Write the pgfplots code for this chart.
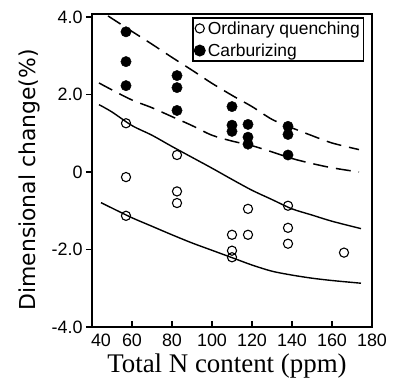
\documentclass[border=0pt]{standalone}
\usepackage{pgfplots}
\pgfplotsset{compat=1.18}
\usepackage{fontspec}
\setmainfont{Liberation Serif}
\newfontfamily\lsans{Liberation Sans}
\newfontfamily\dsans{DejaVu Sans}
\begin{document}
\begin{tikzpicture}
\path[use as bounding box] (-92bp,-51bp) rectangle (303bp,327bp);
\begin{axis}[
  at={(0,0)}, anchor=south west,
  scale only axis, width=280bp, height=313bp,
  xmin=40, xmax=180, ymin=-4, ymax=4.08,
  xtick={40,60,...,180},
  xticklabels={\hspace{18bp}40,60,80,100,120,140,160,180},
  ytick={-4,-2,0,2,4},
  yticklabels={-4.0,-2.0,0,2.0,4.0},
  tick pos=left,
  xtick align=inside, ytick align=outside,
  major tick length=6bp,
  tick style={line width=1.2bp, black},
  axis line style={line width=1.8bp},
  ticklabel style={font=\lsans\fontsize{18}{18}\selectfont},
  xticklabel style={yshift=-3bp},
  /pgf/number format/assume math mode=true,
  xlabel={Total N content (ppm)},
  xlabel style={font=\fontsize{27}{27}\selectfont, at={(axis description cs:0.482,-0.144)}, anchor=base},
  ylabel={Dimensional change(\%)},
  ylabel style={font=\dsans\fontsize{22}{22}\selectfont, at={(axis description cs:-0.225,0.47)}, anchor=center, rotate=0},
  legend style={at={(0.972,0.99)}, anchor=north east, draw=black, line width=1.5bp,
    font=\lsans\fontsize{17.5}{17.5}\selectfont, inner sep=1.5bp, row sep=4bp,
    /tikz/every even column/.append style={column sep=0bp}},
  legend cell align=left,
  legend image code/.code={\path[draw=none,fill=none] (0bp,0bp) rectangle (11bp,0bp); \draw[#1] plot coordinates {(5bp,0bp)};},
]
\addplot[only marks, mark=o, mark size=4.6bp, mark options={line width=1.1bp, black}] coordinates {
(57,1.26) (57,-0.13) (57,-1.13) (82.5,0.44) (82.5,-0.5) (82.5,-0.8)
(110,-1.62) (110,-2.03) (110,-2.2) (118,-0.95) (118,-1.62)
(138,-0.87) (138,-1.44) (138,-1.85) (166,-2.08)};
\addlegendentry{Ordinary quenching}
\addplot[only marks, mark=*, mark size=5.2bp, mark options={black, fill=black}] coordinates {
(57,3.62) (57,2.85) (57,2.23) (82.5,2.49) (82.5,2.18) (82.5,1.59)
(110,1.69) (110,1.21) (110,1.05) (118,1.23) (118,0.90) (118,0.72)
(138,1.18) (138,0.97) (138,0.44)};
\addlegendentry{Carburizing}
% upper dashed
\addplot[forget plot, smooth, black, line width=1.5bp, dash pattern=on 15bp off 8bp] coordinates {
(48,4.03) (60,3.63) (70,3.30) (80,2.96) (90,2.63) (100,2.29) (111,1.95) (120,1.69) (130,1.36) (140,1.14) (150,0.94) (160,0.75) (173.5,0.58)};
% lower dashed
\addplot[forget plot, smooth, black, line width=1.5bp, dash pattern=on 15bp off 8bp] coordinates {
(43.5,2.30) (50,2.12) (60,1.86) (70,1.66) (80,1.43) (90,1.20) (100,0.95) (110,0.80) (120,0.68) (130,0.52) (140,0.35) (150,0.22) (160,0.11) (173.5,0.0)};
% upper solid
\addplot[forget plot, smooth, black, line width=1.4bp] coordinates {
(43.5,1.74) (50,1.55) (60,1.20) (70,0.95) (80,0.66) (90,0.38) (100,0.10) (110,-0.19) (120,-0.47) (130,-0.71) (140,-0.95) (150,-1.11) (160,-1.27) (174.5,-1.46)};
% lower solid
\addplot[forget plot, smooth, black, line width=1.4bp] coordinates {
(44.5,-0.79) (50,-0.93) (60,-1.18) (70,-1.40) (80,-1.62) (90,-1.83) (100,-2.02) (110,-2.21) (120,-2.40) (130,-2.56) (140,-2.66) (150,-2.74) (160,-2.80) (174.5,-2.87)};
\end{axis}
\end{tikzpicture}
\end{document}
